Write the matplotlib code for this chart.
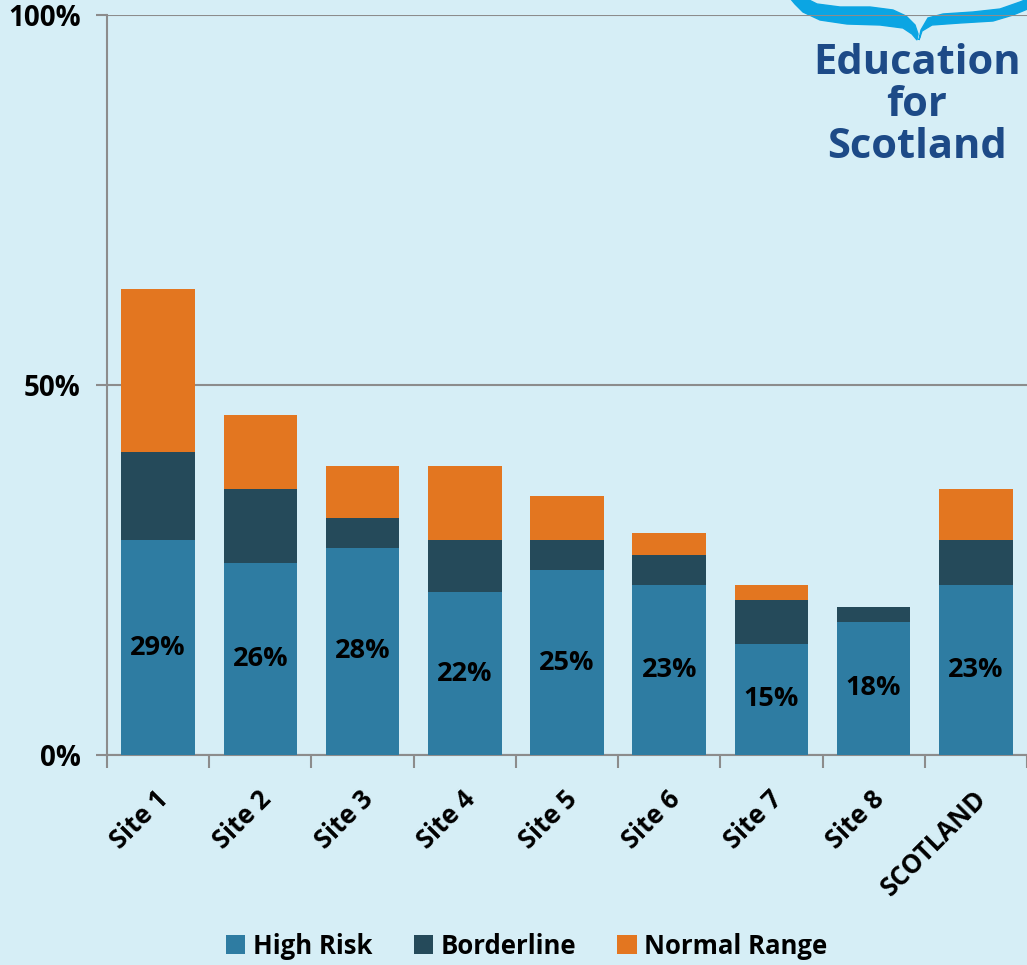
import numpy as np
import matplotlib.pyplot as plt
from matplotlib.patches import Polygon
from matplotlib.transforms import ScaledTranslation

plt.rcParams['font.family'] = ['Open Sans', 'DejaVu Sans']
plt.rcParams['font.weight'] = 'bold'

sites = ['Site 1', 'Site 2', 'Site 3', 'Site 4', 'Site 5', 'Site 6', 'Site 7', 'Site 8', 'SCOTLAND']
high_risk = [29, 26, 28, 22, 25, 23, 15, 18, 23]
borderline = [12, 10, 4, 7, 4, 4, 6, 2, 6]
normal_range = [22, 10, 7, 10, 6, 3, 2, 0, 7]
ytick_labels = ['0%', '50%', '100%']

bg = '#d6eef6'
c_high = '#2e7ca2'
c_border = '#254a5a'
c_normal = '#e37620'
grey = '#8c8c8c'

fig = plt.figure(figsize=(10.27, 9.65), dpi=100, facecolor=bg)
ax = fig.add_axes([107/1027, 1 - 755/965, 1 - 107/1027, (755 - 15)/965])
ax.set_facecolor('none')

x = np.arange(len(sites))
hr = np.array(high_risk)
bl = np.array(borderline)
nr = np.array(normal_range)
w = 0.72
ax.bar(x, hr, w, color=c_high, label='High Risk', zorder=3)
ax.bar(x, bl, w, bottom=hr, color=c_border, label='Borderline', zorder=3)
ax.bar(x, nr, w, bottom=hr + bl, color=c_normal, label='Normal Range', zorder=3)

for xi, v in zip(x, hr):
    ax.text(xi, v / 2, f'{v}%', ha='center', va='center', fontsize=19.5,
            fontweight='bold', color='black', zorder=4)

ax.set_xlim(-0.5, len(sites) - 0.5)
ax.set_ylim(0, 100)
ax.set_yticks([0, 50, 100])
ax.set_yticklabels(ytick_labels, fontsize=20, fontweight='bold')
ax.yaxis.grid(True, color=grey, linewidth=1.5, zorder=1)
ax.tick_params(axis='y', length=8, width=1.5, color=grey, pad=11)

ax.set_xticks(x)
ax.set_xticklabels(sites, rotation=45, ha='right', rotation_mode='anchor',
                   fontsize=18.5, fontweight='bold')
ax.tick_params(axis='x', length=0, pad=22)
ax.set_xticks(np.arange(-0.5, len(sites), 1), minor=True)
ax.tick_params(axis='x', which='minor', length=9, width=1.5, color=grey)
for lbl in ax.get_xticklabels():
    lbl.set_transform(lbl.get_transform() + ScaledTranslation(-0.03, 0, fig.dpi_scale_trans))

for s in ['top', 'right']:
    ax.spines[s].set_visible(False)
for s in ['left', 'bottom']:
    ax.spines[s].set_color(grey)
    ax.spines[s].set_linewidth(1.5)

leg = fig.legend(loc='center', bbox_to_anchor=(0.513, 1 - 946/965), ncol=3, frameon=False,
                 fontsize=18.5, handlelength=0.75, handleheight=0.75, handletextpad=0.3,
                 columnspacing=1.6)
for t in leg.get_texts():
    t.set_fontweight('bold')

# logo
logo_blue = '#1d4a87'
wave = '#0ba5e3'
for txt, yy in [('Education', 64), ('for', 106), ('Scotland', 148)]:
    fig.text(917/1027, 1 - yy/965, txt, ha='center', va='center', fontsize=30,
             fontweight='bold', color=logo_blue)

left_wing = [(790, -2), (795, 4), (803, 12), (820, 20), (847, 24), (880, 25), (903, 28),
             (912, 34), (917, 40), (918, 34), (915, 25), (906, 16), (893, 10), (870, 7),
             (840, 7), (817, 4), (805, -2)]
right_wing = [(919, 40), (922, 31), (932, 25), (960, 23), (993, 21), (1013, 15), (1030, 8),
              (1030, -2), (1020, 2), (1000, 9), (973, 12), (943, 14), (928, 18), (921, 30)]
for pts in (left_wing, right_wing):
    pts = np.array(pts, dtype=float)
    fpts = np.column_stack([pts[:, 0] / 1027, 1 - pts[:, 1] / 965])
    fig.patches.append(Polygon(fpts, closed=True, facecolor=wave, edgecolor=wave,
                               linewidth=1, transform=fig.transFigure, zorder=-1))

fig.savefig('out.png', dpi=100, facecolor=bg)
